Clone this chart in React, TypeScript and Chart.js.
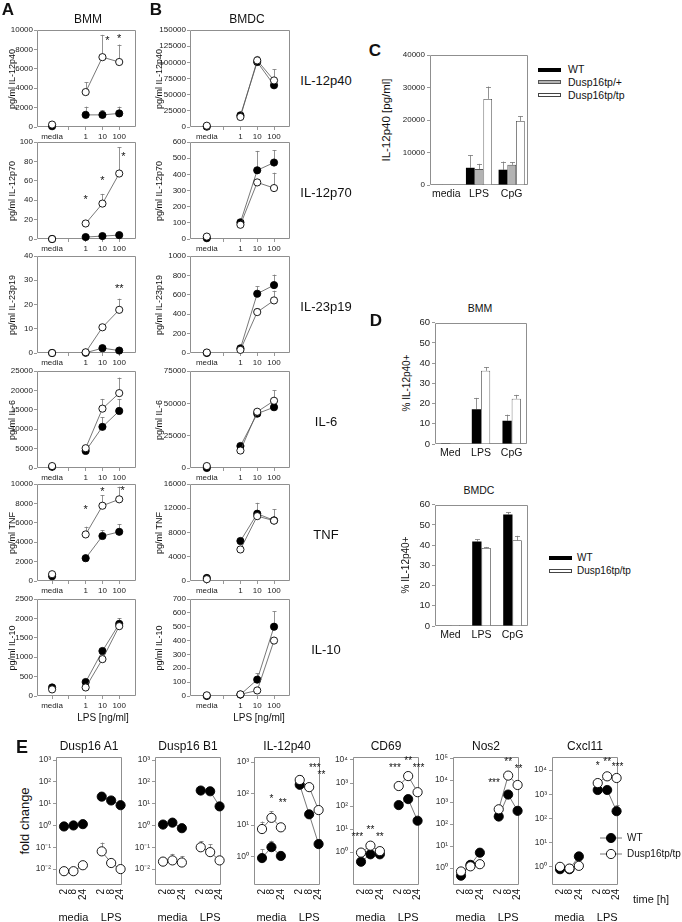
import React, { useEffect, useRef } from 'react';
import { Chart, registerables } from 'chart.js';
Chart.register(...registerables);

const FONT = '"Liberation Sans", Arial, Helvetica, sans-serif';

// ---------------- Panels A / B : LPS dose ----------------
const DOSE_LABELS = ['media', '', '1', '10', '100'];
const DOSE_X = [0, 1, 2, 3, 4];

// Panel A (BMM)
const A_IL12P40_WT = [80, null, 1250, 1250, 1400];
const A_IL12P40_WT_ERR = [0, null, 850, 500, 700];
const A_IL12P40_TP = [250, null, 3600, 7200, 6700];
const A_IL12P40_TP_ERR = [0, null, 1000, 2300, 1800];
const A_IL12P40_STARS = [{ x: 3.3, y: 8900, t: '*' }, { x: 4, y: 9100, t: '*' }];

const A_IL12P70_WT = [0, null, 2, 3, 4];
const A_IL12P70_WT_ERR = [0, null, 0, 0.8, 1.2];
const A_IL12P70_TP = [0, null, 16, 36.5, 67.5];
const A_IL12P70_TP_ERR = [0, null, 0, 10, 27];
const A_IL12P70_STARS = [{ x: 2, y: 40, t: '*' }, { x: 3, y: 60, t: '*' }, { x: 4.25, y: 85, t: '*' }];

const A_IL23_WT = [0, null, 0.1, 2.0, 1.0];
const A_IL23_WT_ERR = [0, null, 0, 0, 0];
const A_IL23_TP = [0, null, 0.3, 10.6, 17.8];
const A_IL23_TP_ERR = [0, null, 0, 0, 4.6];
const A_IL23_STARS = [{ x: 4, y: 26.5, t: '**' }];

const A_IL6_WT = [300, null, 4400, 10600, 14700];
const A_IL6_WT_ERR = [0, null, 0, 2500, 3100];
const A_IL6_TP = [500, null, 5100, 15300, 19300];
const A_IL6_TP_ERR = [0, null, 0, 2500, 4000];
const A_IL6_STARS: any[] = [];

const A_TNF_WT = [500, null, 2350, 4640, 5070];
const A_TNF_WT_ERR = [0, null, 0, 600, 800];
const A_TNF_TP = [700, null, 4800, 7760, 8420];
const A_TNF_TP_ERR = [0, null, 800, 1100, 1300];
const A_TNF_STARS = [{ x: 2, y: 7300, t: '*' }, { x: 3, y: 9200, t: '*' }, { x: 4.2, y: 9300, t: '*' }];

const A_IL10_WT = [220, null, 360, 1160, 1860];
const A_IL10_WT_ERR = [0, null, 0, 0, 150];
const A_IL10_TP = [170, null, 220, 950, 1800];
const A_IL10_TP_ERR = [0, null, 0, 0, 0];
const A_IL10_STARS: any[] = [];

// Panel B (BMDC)
const B_IL12P40_WT = [500, null, 18000, 100500, 64500];
const B_IL12P40_WT_ERR = [0, null, 0, 0, 0];
const B_IL12P40_TP = [2000, null, 15500, 103000, 72000];
const B_IL12P40_TP_ERR = [0, null, 0, 7000, 17000];

const B_IL12P70_WT = [5, null, 103, 425, 473];
const B_IL12P70_WT_ERR = [0, null, 0, 120, 77];
const B_IL12P70_TP = [15, null, 88, 350, 315];
const B_IL12P70_TP_ERR = [0, null, 0, 0, 95];

const B_IL23_WT = [0, null, 48, 611, 700];
const B_IL23_WT_ERR = [0, null, 0, 75, 108];
const B_IL23_TP = [5, null, 32, 422, 542];
const B_IL23_TP_ERR = [0, null, 0, 40, 100];

const B_IL6_WT = [0, null, 17000, 42000, 47000];
const B_IL6_WT_ERR = [0, null, 0, 0, 0];
const B_IL6_TP = [1500, null, 13500, 43500, 52000];
const B_IL6_TP_ERR = [0, null, 0, 0, 8000];

const B_TNF_WT = [500, null, 6600, 11100, 10000];
const B_TNF_WT_ERR = [0, null, 0, 1800, 0];
const B_TNF_TP = [300, null, 5200, 10700, 9950];
const B_TNF_TP_ERR = [0, null, 0, 0, 1900];

const B_IL10_WT = [0, null, 10, 118, 500];
const B_IL10_WT_ERR = [0, null, 0, 45, 110];
const B_IL10_TP = [5, null, 12, 40, 400];
const B_IL10_TP_ERR = [0, null, 0, 0, 0];

// ---------------- Panel C ----------------
const C_CATS = ['media', 'LPS', 'CpG'];
const C_WT = [0, 5300, 4700];
const C_WT_ERR = [0, 3900, 2500];
const C_HET = [50, 4900, 6200];
const C_HET_ERR = [0, 1600, 800];
const C_TP = [150, 26500, 19700];
const C_TP_ERR = [0, 3800, 1500];

// ---------------- Panel D ----------------
const D_CATS = ['Med', 'LPS', 'CpG'];
const D_BMM_WT = [0.1, 17.2, 11.5];
const D_BMM_WT_ERR = [0, 5.6, 3.0];
const D_BMM_TP = [0.3, 36.2, 22.4];
const D_BMM_TP_ERR = [0, 1.8, 1.9];
const D_BMDC_WT = [0, 41.8, 55.2];
const D_BMDC_WT_ERR = [0, 1.0, 1.0];
const D_BMDC_TP = [0.5, 38.6, 42.4];
const D_BMDC_TP_ERR = [0, 0.5, 2.2];

// ---------------- Panel E ----------------
const E_LABELS = ['2', '8', '24', '', '2', '8', '24'];
const E_X = [0, 1, 2, 3, 4, 5, 6];

const E_A1_WT = [0.9, 1.0, 1.15, null, 21, 14, 8.5];
const E_A1_WT_ERR = [0, 0, 0, null, 0, 0, 0];
const E_A1_TP = [0.008, 0.008, 0.015, null, 0.065, 0.019, 0.01];
const E_A1_TP_ERR = [0, 0, 0, null, 0.1, 0, 0];

const E_B1_WT = [1.1, 1.35, 0.75, null, 40, 37, 7.5];
const E_B1_WT_ERR = [0, 0, 0, null, 0, 0, 0];
const E_B1_TP = [0.022, 0.025, 0.02, null, 0.1, 0.06, 0.025];
const E_B1_TP_ERR = [0, 0.025, 0.02, null, 0.09, 0.075, 0.014];

const E_IL12_WT = [0.9, 2.0, 1.05, null, 190, 22, 2.5];
const E_IL12_WT_ERR = [0.8, 1.2, 0, null, 0, 0, 1.1];
const E_IL12_TP = [7.5, 17, 8.5, null, 270, 160, 30];
const E_IL12_TP_ERR = [5.5, 11, 0, null, 120, 0, 0];
const E_IL12_STARS = [{ x: 1, y: 68, t: '*' }, { x: 2.2, y: 48, t: '**' }, { x: 5.6, y: 630, t: '***' }, { x: 6.3, y: 380, t: '**' }];

const E_CD69_WT = [0.38, 0.8, 0.8, null, 110, 200, 23];
const E_CD69_WT_ERR = [0, 0, 0, null, 0, 0, 0];
const E_CD69_TP = [0.95, 1.9, 1.1, null, 740, 2000, 400];
const E_CD69_TP_ERR = [0, 0, 0, null, 0, 0, 0];
const E_CD69_STARS = [{ x: -0.4, y: 4.5, t: '***' }, { x: 1, y: 9, t: '**' }, { x: 2, y: 4.5, t: '**' }, { x: 3.6, y: 4500, t: '***' }, { x: 5, y: 9000, t: '**' }, { x: 6.1, y: 4500, t: '***' }];

const E_NOS2_WT = [0.45, 1.4, 5, null, 220, 2200, 400];
const E_NOS2_WT_ERR = [0, 0, 0, null, 0, 0, 250];
const E_NOS2_TP = [0.7, 1.2, 1.5, null, 470, 16000, 6000];
const E_NOS2_TP_ERR = [0, 0, 0, null, 0, 0, 0];
const E_NOS2_STARS = [{ x: 3.5, y: 7500, t: '***' }, { x: 5, y: 65000, t: '**' }, { x: 6.1, y: 32000, t: '**' }];

const E_CXCL11_WT = [0.8, 0.8, 2.7, null, 1500, 1500, 200];
const E_CXCL11_WT_ERR = [0, 0, 0, null, 0, 0, 150];
const E_CXCL11_TP = [1.0, 0.85, 1.1, null, 2900, 5500, 4700];
const E_CXCL11_TP_ERR = [0, 0, 0, null, 0, 0, 0];
const E_CXCL11_STARS = [{ x: 4, y: 14000, t: '*' }, { x: 5, y: 22000, t: '**' }, { x: 6.1, y: 13000, t: '***' }];

// ---------------- helpers ----------------
const SUP: Record<string, string> = { '0': '⁰', '1': '¹', '2': '²', '3': '³', '4': '⁴', '5': '⁵', '-': '⁻' };
const pow10Label = (e: number) => '10' + String(e).split('').map((c) => SUP[c] || c).join('');

const pts = (xs: number[], vals: (number | null)[]) => xs.map((x, i) => ({ x, y: vals[i] }));

function strokeFrame(chart: any) {
  const ctx = chart.ctx;
  const xs = chart.scales.x;
  const ys = chart.scales.y;
  const l = Math.round(xs.left) + 0.5;
  const r = Math.round(xs.right) - 0.5;
  const t = Math.round(ys.top) + 0.5;
  const b = Math.round(ys.bottom) - 0.5;
  ctx.save();
  ctx.strokeStyle = '#8f8f8f';
  ctx.lineWidth = 1;
  ctx.beginPath();
  ctx.moveTo(l, t);
  ctx.lineTo(r, t);
  ctx.lineTo(r, b);
  ctx.lineTo(l, b);
  ctx.closePath();
  ctx.stroke();
  ctx.restore();
}
const framePlugin = { id: 'frame', beforeDatasetsDraw(chart: any) { strokeFrame(chart); } };

const errorPlugin = (cap: number) => ({
  id: 'errbars',
  beforeDatasetsDraw(chart: any) {
    const ctx = chart.ctx;
    ctx.save();
    ctx.strokeStyle = '#777';
    ctx.lineWidth = 0.8;
    chart.data.datasets.forEach((ds: any, i: number) => {
      const errs = ds.errors;
      if (!errs) return;
      const meta = chart.getDatasetMeta(i);
      const ys = chart.scales[meta.yAxisID];
      meta.data.forEach((el: any, j: number) => {
        const e = errs[j];
        const raw = ds.data[j];
        const v = raw && typeof raw === 'object' ? raw.y : raw;
        if (!e || v === null || v === undefined) return;
        const x = Math.round(el.x) + 0.5;
        const y0 = el.y;
        const y1 = ys.getPixelForValue(v + e);
        ctx.beginPath();
        ctx.moveTo(x, y0);
        ctx.lineTo(x, y1);
        ctx.moveTo(x - cap, Math.round(y1) + 0.5);
        ctx.lineTo(x + cap, Math.round(y1) + 0.5);
        ctx.stroke();
      });
    });
    ctx.restore();
  },
});

const starsPlugin = (items: any[], size: number) => ({
  id: 'stars',
  afterDatasetsDraw(chart: any) {
    if (!items || !items.length) return;
    const ctx = chart.ctx;
    const xs = chart.scales.x;
    const ys = chart.scales.y;
    ctx.save();
    ctx.fillStyle = '#111';
    ctx.font = `${size}px ${FONT}`;
    ctx.textAlign = 'center';
    ctx.textBaseline = 'middle';
    items.forEach((s) => ctx.fillText(s.t, xs.getPixelForValue(s.x), ys.getPixelForValue(s.y)));
    ctx.restore();
  },
});

// rotated time labels (2, 8, 24) under the E panels, placed through the x scale
const rotLabelsPlugin = (labels: string[], xsPos: number[], size: number) => ({
  id: 'rotlabels',
  afterDraw(chart: any) {
    const ctx = chart.ctx;
    const xs = chart.scales.x;
    const ys = chart.scales.y;
    ctx.save();
    ctx.fillStyle = '#111';
    ctx.font = `${size}px ${FONT}`;
    ctx.textAlign = 'right';
    ctx.textBaseline = 'middle';
    xsPos.forEach((v, i) => {
      const t = labels[i];
      if (!t) return;
      ctx.save();
      ctx.translate(xs.getPixelForValue(v), ys.bottom + 4);
      ctx.rotate(-Math.PI / 2);
      ctx.fillText(t, 0, 0);
      ctx.restore();
    });
    ctx.restore();
  },
});

function lineSets(xs: number[], wt: any[], wtErr: any[], tp: any[], tpErr: any[], r: number) {
  const common = {
    borderColor: '#555',
    borderWidth: 0.8,
    pointRadius: r,
    pointHoverRadius: r,
    pointBorderColor: '#000',
    pointBorderWidth: 0.9,
    spanGaps: false,
    clip: false,
    tension: 0,
    fill: false,
  };
  return [
    { ...common, label: 'Dusp16tp/tp', data: pts(xs, tp), errors: tpErr, pointBackgroundColor: '#fff' },
    { ...common, label: 'WT', data: pts(xs, wt), errors: wtErr, pointBackgroundColor: '#000' },
  ];
}

const tickFont = (s: number) => ({ family: FONT, size: s });
const plainNum = (v: any) => String(v);

type G = { yW: number; xH: number; padT: number; padR: number };
type Box = { l: number; t: number; w: number; h: number };

function doseConfig(wt: any[], wtErr: any[], tp: any[], tpErr: any[], yMax: number, step: number, stars: any[], xmin: number, xmax: number) {
  return {
    type: 'line',
    data: { datasets: lineSets(DOSE_X, wt, wtErr, tp, tpErr, 3.6) },
    options: {
      animation: false,
      responsive: false,
      events: [],
      plugins: { legend: { display: false }, tooltip: { enabled: false } },
      scales: {
        x: {
          type: 'linear',
          min: xmin,
          max: xmax,
          afterBuildTicks: (ax: any) => { ax.ticks = DOSE_X.map((v) => ({ value: v })); },
          ticks: { callback: (v: any) => DOSE_LABELS[DOSE_X.indexOf(Number(v))] ?? '', autoSkip: false, maxRotation: 0, minRotation: 0, font: tickFont(8), color: '#222', padding: 2 },
          grid: { drawOnChartArea: false, tickLength: 3, color: '#999' },
          border: { display: false },
        },
        y: {
          min: 0,
          max: yMax,
          ticks: { stepSize: step, callback: plainNum, font: tickFont(8), color: '#222', padding: 1 },
          grid: { drawOnChartArea: false, tickLength: 3, color: '#999' },
          border: { display: false },
        },
      },
    },
    plugins: [framePlugin, errorPlugin(2), starsPlugin(stars, 11)],
  };
}

function logConfig(wt: any[], wtErr: any[], tp: any[], tpErr: any[], eMin: number, eMax: number, decades: number[], stars: any[]) {
  return {
    type: 'line',
    data: { datasets: lineSets(E_X, wt, wtErr, tp, tpErr, 4.6) },
    options: {
      animation: false,
      responsive: false,
      events: [],
      plugins: { legend: { display: false }, tooltip: { enabled: false } },
      scales: {
        x: {
          type: 'linear',
          min: -0.85,
          max: 6.15,
          ticks: { display: false },
          grid: { display: false },
          border: { display: false },
        },
        y: {
          type: 'logarithmic',
          min: Math.pow(10, eMin),
          max: Math.pow(10, eMax),
          afterBuildTicks: (ax: any) => { ax.ticks = decades.map((e) => ({ value: Math.pow(10, e) })); },
          ticks: { callback: (v: any) => pow10Label(Math.round(Math.log10(Number(v)))), autoSkip: false, font: tickFont(8.5), color: '#333', padding: 2 },
          grid: { drawOnChartArea: false, tickLength: 3, color: '#999' },
          border: { display: false },
        },
      },
    },
    plugins: [framePlugin, errorPlugin(2), starsPlugin(stars, 10), rotLabelsPlugin(E_LABELS, E_X, 10)],
  };
}

function barConfig(cats: string[], sets: any[], yMax: number, step: number, catPct: number, yFont: number, xFont: number) {
  return {
    type: 'bar',
    data: {
      labels: cats,
      datasets: sets.map((s) => ({
        data: s.data,
        errors: s.err,
        backgroundColor: s.bg,
        borderColor: s.bc,
        borderWidth: s.bw,
        borderSkipped: 'bottom',
        categoryPercentage: catPct,
        barPercentage: 1.0,
      })),
    },
    options: {
      animation: false,
      responsive: false,
      events: [],
      plugins: { legend: { display: false }, tooltip: { enabled: false } },
      scales: {
        x: {
          ticks: { font: tickFont(xFont), color: '#111', padding: 3, maxRotation: 0 },
          grid: { drawOnChartArea: false, drawTicks: false },
          border: { display: false },
        },
        y: {
          min: 0,
          max: yMax,
          ticks: { stepSize: step, callback: plainNum, font: tickFont(yFont), color: '#222', padding: 2 },
          grid: { drawOnChartArea: false, tickLength: 3, color: '#999' },
          border: { display: false },
        },
      },
    },
    plugins: [framePlugin, errorPlugin(2.5)],
  };
}

function withGeo(cfg: any, g: G) {
  cfg.options.layout = { padding: { top: g.padT, right: g.padR, left: 0, bottom: 0 }, autoPadding: false };
  cfg.options.scales.x.afterFit = (s: any) => { s.height = g.xH; };
  cfg.options.scales.y.afterFit = (s: any) => { s.width = g.yW; };
  return cfg;
}

function ChartCanvas({ box, g, build }: { box: Box; g: G; build: () => any }) {
  const ref = useRef<HTMLCanvasElement>(null);
  const W = g.yW + box.w + g.padR;
  const H = g.padT + box.h + g.xH;
  useEffect(() => {
    const chart = new Chart(ref.current as HTMLCanvasElement, withGeo(build(), g));
    return () => chart.destroy();
  }, []);
  return (
    <div style={{ position: 'absolute', left: box.l - g.yW, top: box.t - g.padT, width: W, height: H }}>
      <canvas ref={ref} width={W} height={H} style={{ width: W, height: H, display: 'block' }} />
    </div>
  );
}

function Txt({ x, y, s, children, a = 'c', rot = false, bold = false, fam = FONT }: any) {
  const tx = a === 'c' ? '-50%' : a === 'r' ? '-100%' : '0';
  return (
    <div
      style={{
        position: 'absolute', left: x, top: y, fontSize: s, fontFamily: fam, fontWeight: bold ? 700 : 400,
        color: '#111', whiteSpace: 'nowrap', lineHeight: 1,
        transform: rot ? 'translate(-50%, -50%) rotate(-90deg)' : `translate(${tx}, -50%)`,
      }}
    >
      {children}
    </div>
  );
}

// ---------------- layout ----------------
const ROW_T = [30, 142, 256, 371, 484, 599];
const ROW_H = 97;
const A_L = 37, A_W = 99, B_L = 190, B_W = 100;
const GA: G = { yW: 37, xH: 14, padT: 7, padR: 6 };
const GB: G = { yW: 40, xH: 14, padT: 7, padR: 6 };

const A_CHARTS = [
  () => doseConfig(A_IL12P40_WT, A_IL12P40_WT_ERR, A_IL12P40_TP, A_IL12P40_TP_ERR, 10000, 2000, A_IL12P40_STARS, -0.9, 5.0),
  () => doseConfig(A_IL12P70_WT, A_IL12P70_WT_ERR, A_IL12P70_TP, A_IL12P70_TP_ERR, 100, 20, A_IL12P70_STARS, -0.9, 5.0),
  () => doseConfig(A_IL23_WT, A_IL23_WT_ERR, A_IL23_TP, A_IL23_TP_ERR, 40, 10, A_IL23_STARS, -0.9, 5.0),
  () => doseConfig(A_IL6_WT, A_IL6_WT_ERR, A_IL6_TP, A_IL6_TP_ERR, 25000, 5000, A_IL6_STARS, -0.9, 5.0),
  () => doseConfig(A_TNF_WT, A_TNF_WT_ERR, A_TNF_TP, A_TNF_TP_ERR, 10000, 2000, A_TNF_STARS, -0.9, 5.0),
  () => doseConfig(A_IL10_WT, A_IL10_WT_ERR, A_IL10_TP, A_IL10_TP_ERR, 2500, 500, A_IL10_STARS, -0.9, 5.0),
];
const B_CHARTS = [
  () => doseConfig(B_IL12P40_WT, B_IL12P40_WT_ERR, B_IL12P40_TP, B_IL12P40_TP_ERR, 150000, 25000, [], -1.0, 4.95),
  () => doseConfig(B_IL12P70_WT, B_IL12P70_WT_ERR, B_IL12P70_TP, B_IL12P70_TP_ERR, 600, 100, [], -1.0, 4.95),
  () => doseConfig(B_IL23_WT, B_IL23_WT_ERR, B_IL23_TP, B_IL23_TP_ERR, 1000, 200, [], -1.0, 4.95),
  () => doseConfig(B_IL6_WT, B_IL6_WT_ERR, B_IL6_TP, B_IL6_TP_ERR, 75000, 25000, [], -1.0, 4.95),
  () => doseConfig(B_TNF_WT, B_TNF_WT_ERR, B_TNF_TP, B_TNF_TP_ERR, 16000, 4000, [], -1.0, 4.95),
  () => doseConfig(B_IL10_WT, B_IL10_WT_ERR, B_IL10_TP, B_IL10_TP_ERR, 700, 100, [], -1.0, 4.95),
];
const ROW_YTITLES = ['pg/ml IL-12p40', 'pg/ml IL-12p70', 'pg/ml IL-23p19', 'pg/ml IL-6', 'pg/ml TNF', 'pg/ml IL-10'];
const ROW_NAMES = ['IL-12p40', 'IL-12p70', 'IL-23p19', 'IL-6', 'TNF', 'IL-10'];

const E_T = 757, E_H = 128, E_W = 66;
const E_LEFTS = [56, 155, 254, 353, 453, 552];
const GE: G = { yW: 30, xH: 24, padT: 8, padR: 8 };
const E_TITLES = ['Dusp16 A1', 'Dusp16 B1', 'IL-12p40', 'CD69', 'Nos2', 'Cxcl11'];
const E_CHARTS = [
  () => logConfig(E_A1_WT, E_A1_WT_ERR, E_A1_TP, E_A1_TP_ERR, -2.73, 3.14, [-2, -1, 0, 1, 2, 3], []),
  () => logConfig(E_B1_WT, E_B1_WT_ERR, E_B1_TP, E_B1_TP_ERR, -2.73, 3.14, [-2, -1, 0, 1, 2, 3], []),
  () => logConfig(E_IL12_WT, E_IL12_WT_ERR, E_IL12_TP, E_IL12_TP_ERR, -0.9, 3.16, [0, 1, 2, 3], E_IL12_STARS),
  () => logConfig(E_CD69_WT, E_CD69_WT_ERR, E_CD69_TP, E_CD69_TP_ERR, -1.43, 4.13, [0, 1, 2, 3, 4], E_CD69_STARS),
  () => logConfig(E_NOS2_WT, E_NOS2_WT_ERR, E_NOS2_TP, E_NOS2_TP_ERR, -0.77, 5.05, [0, 1, 2, 3, 4, 5], E_NOS2_STARS),
  () => logConfig(E_CXCL11_WT, E_CXCL11_WT_ERR, E_CXCL11_TP, E_CXCL11_TP_ERR, -0.75, 4.54, [0, 1, 2, 3, 4], E_CXCL11_STARS),
];

export default function App() {
  const swatch = (top: number, bg: string, border: string, h: number, left: number) => (
    <div style={{ position: 'absolute', left, top: top - h / 2, width: 23, height: h, background: bg, border, boxSizing: 'border-box' }} />
  );
  return (
    <div style={{ position: 'absolute', left: 0, top: 0, width: 682, height: 922, background: '#fff', overflow: 'hidden' }}>
      {/* Panel A & B */}
      {A_CHARTS.map((b, i) => (
        <ChartCanvas key={'a' + i} box={{ l: A_L, t: ROW_T[i], w: A_W, h: ROW_H }} g={GA} build={b} />
      ))}
      {B_CHARTS.map((b, i) => (
        <ChartCanvas key={'b' + i} box={{ l: B_L, t: ROW_T[i], w: B_W, h: ROW_H }} g={GB} build={b} />
      ))}
      {ROW_YTITLES.map((t, i) => (
        <Txt key={'ya' + i} x={12} y={ROW_T[i] + ROW_H / 2} s={9} rot>{t}</Txt>
      ))}
      {ROW_YTITLES.map((t, i) => (
        <Txt key={'yb' + i} x={159} y={ROW_T[i] + ROW_H / 2} s={9} rot>{t}</Txt>
      ))}
      {ROW_NAMES.map((t, i) => (
        <Txt key={'n' + i} x={326} y={ROW_T[i] + 50} s={13}>{t}</Txt>
      ))}
      <Txt x={8} y={9} s={17} bold>A</Txt>
      <Txt x={156} y={9} s={17} bold>B</Txt>
      <Txt x={88} y={19} s={12}>BMM</Txt>
      <Txt x={247} y={19} s={12}>BMDC</Txt>
      <Txt x={103} y={718} s={10}>LPS [ng/ml]</Txt>
      <Txt x={259} y={718} s={10}>LPS [ng/ml]</Txt>

      {/* Panel C */}
      <Txt x={375} y={50} s={17} bold>C</Txt>
      <ChartCanvas
        box={{ l: 430, t: 55, w: 98, h: 130 }}
        g={{ yW: 34, xH: 18, padT: 7, padR: 6 }}
        build={() => barConfig(C_CATS, [
          { data: C_WT, err: C_WT_ERR, bg: '#000', bc: '#000', bw: 0 },
          { data: C_HET, err: C_HET_ERR, bg: '#b3b3b3', bc: '#555', bw: 0.8 },
          { data: C_TP, err: C_TP_ERR, bg: '#fff', bc: '#444', bw: 0.8 },
        ], 40000, 10000, 0.8, 8, 10.5)}
      />
      <Txt x={387} y={120} s={11.5} rot>IL-12p40 [pg/ml]</Txt>
      {swatch(69.5, '#000', 'none', 4, 538)}
      {swatch(82, '#b3b3b3', '1px solid #555', 4, 538)}
      {swatch(94.5, '#fff', '1px solid #444', 4, 538)}
      <Txt x={568} y={69} s={10.5} a="l">WT</Txt>
      <Txt x={568} y={82} s={10.5} a="l">Dusp16tp/+</Txt>
      <Txt x={568} y={95} s={10.5} a="l">Dusp16tp/tp</Txt>

      {/* Panel D */}
      <Txt x={376} y={320} s={17} bold>D</Txt>
      <Txt x={480} y={308} s={10.5}>BMM</Txt>
      <ChartCanvas
        box={{ l: 435, t: 322, w: 92, h: 122 }}
        g={{ yW: 22, xH: 20, padT: 7, padR: 6 }}
        build={() => barConfig(D_CATS, [
          { data: D_BMM_WT, err: D_BMM_WT_ERR, bg: '#000', bc: '#000', bw: 0 },
          { data: D_BMM_TP, err: D_BMM_TP_ERR, bg: '#fff', bc: '#444', bw: 0.8 },
        ], 60, 10, 0.6, 9.5, 10.5)}
      />
      <Txt x={407} y={383} s={10} rot>% IL-12p40+</Txt>
      <Txt x={479} y={490} s={10.5}>BMDC</Txt>
      <ChartCanvas
        box={{ l: 435, t: 504, w: 93, h: 122 }}
        g={{ yW: 22, xH: 20, padT: 7, padR: 6 }}
        build={() => barConfig(D_CATS, [
          { data: D_BMDC_WT, err: D_BMDC_WT_ERR, bg: '#000', bc: '#000', bw: 0 },
          { data: D_BMDC_TP, err: D_BMDC_TP_ERR, bg: '#fff', bc: '#444', bw: 0.8 },
        ], 60, 10, 0.6, 9.5, 10.5)}
      />
      <Txt x={406} y={565} s={10} rot>% IL-12p40+</Txt>
      {swatch(558, '#000', 'none', 4, 549)}
      {swatch(571, '#fff', '1px solid #444', 4, 549)}
      <Txt x={577} y={558} s={10} a="l">WT</Txt>
      <Txt x={577} y={571} s={10} a="l">Dusp16tp/tp</Txt>

      {/* Panel E */}
      <Txt x={22} y={747} s={18} bold>E</Txt>
      <Txt x={24} y={821} s={13} rot>fold change</Txt>
      {E_CHARTS.map((b, i) => (
        <ChartCanvas key={'e' + i} box={{ l: E_LEFTS[i], t: E_T, w: E_W, h: E_H }} g={GE} build={b} />
      ))}
      {E_TITLES.map((t, i) => (
        <Txt key={'et' + i} x={E_LEFTS[i] + E_W / 2} y={746} s={12}>{t}</Txt>
      ))}
      {E_LEFTS.map((l, i) => (
        <React.Fragment key={'em' + i}>
          <Txt x={l + 17.4} y={917} s={11}>media</Txt>
          <Txt x={l + 55.2} y={917} s={11}>LPS</Txt>
        </React.Fragment>
      ))}
      <svg style={{ position: 'absolute', left: 596, top: 828, overflow: 'visible' }} width={30} height={34}>
        <line x1={4} y1={10} x2={26} y2={10} stroke="#555" strokeWidth={0.8} />
        <circle cx={15} cy={10} r={4.6} fill="#000" stroke="#000" strokeWidth={0.9} />
        <line x1={4} y1={26} x2={26} y2={26} stroke="#555" strokeWidth={0.8} />
        <circle cx={15} cy={26} r={4.6} fill="#fff" stroke="#000" strokeWidth={0.9} />
      </svg>
      <Txt x={627} y={838} s={10} a="l">WT</Txt>
      <Txt x={627} y={854} s={10} a="l">Dusp16tp/tp</Txt>
      <Txt x={633} y={899} s={11} a="l">time [h]</Txt>
    </div>
  );
}
